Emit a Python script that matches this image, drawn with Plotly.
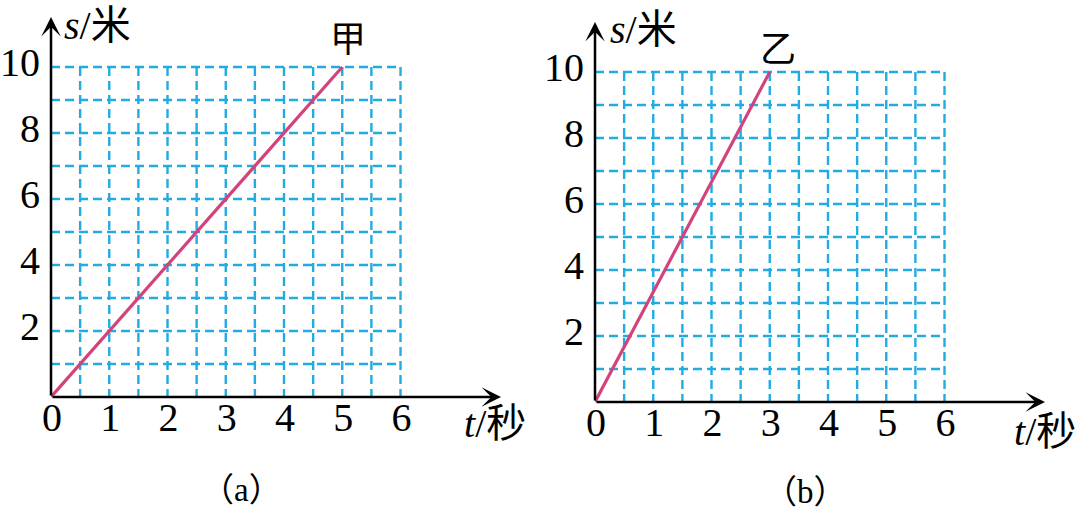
import plotly.graph_objects as go

# ---- data ----
t_jia = [0, 5]
s_jia = [0, 10]
t_yi = [0, 3]
s_yi = [0, 10]

x_ticks = [0, 1, 2, 3, 4, 5, 6]
x_ticktext = ["0", "1", "2", "3", "4", "5", "6"]
y_ticks = [2, 4, 6, 8, 10]
y_ticktext = ["2", "4", "6", "8", "10"]

grid_t = [0.5, 1, 1.5, 2, 2.5, 3, 3.5, 4, 4.5, 5, 5.5, 6]
grid_s = [1, 2, 3, 4, 5, 6, 7, 8, 9, 10]
grid_t_max = 6
grid_s_max = 10

x_axis_end = 7.725
y_axis_end = 11.515

W, H = 1080, 509
SERIF = "Liberation Serif, Noto Sans CJK SC"
GRID_COLOR = "#22ABE3"
LINE_COLOR = "#D2437C"

fig = go.Figure()


def grid_traces(xa, ya):
    gx, gy = [], []
    for t in grid_t:
        gx += [t, t, None]
        gy += [grid_s_max, 0, None]
    hx, hy = [], []
    for s in grid_s:
        hx += [0, grid_t_max, None]
        hy += [s, s, None]
    for X, Y in ((gx, gy), (hx, hy)):
        fig.add_trace(go.Scatter(x=X, y=Y, mode="lines", xaxis=xa, yaxis=ya,
                                 line=dict(color=GRID_COLOR, width=2.4, dash="9px,5px"),
                                 hoverinfo="skip", showlegend=False))


grid_traces("x", "y")
grid_traces("x2", "y2")

fig.add_trace(go.Scatter(x=t_jia, y=s_jia, mode="lines", xaxis="x", yaxis="y",
                         line=dict(color=LINE_COLOR, width=3.2), showlegend=False))
fig.add_trace(go.Scatter(x=t_yi, y=s_yi, mode="lines", xaxis="x2", yaxis="y2",
                         line=dict(color=LINE_COLOR, width=3.2), showlegend=False))

xax = dict(range=[0, x_axis_end], showgrid=False, zeroline=False, showline=False,
           automargin=False,
           tickmode="array", tickvals=x_ticks, ticktext=x_ticktext, ticks="",
           tickfont=dict(family=SERIF, size=40, color="black"), ticklabelstandoff=-7,
           ticklabelshift=1)
yax = dict(range=[0, y_axis_end], showgrid=False, zeroline=False, showline=False,
           automargin=False,
           tickmode="array", tickvals=y_ticks, ticktext=y_ticktext, ticks="",
           tickfont=dict(family=SERIF, size=40, color="black"), ticklabelstandoff=10,
           ticklabelshift=-5)

fig.update_layout(
    width=W, height=H, margin=dict(l=0, r=0, t=0, b=0, pad=0, autoexpand=False),
    paper_bgcolor="white", plot_bgcolor="white", showlegend=False,
    xaxis=dict(xax, domain=[51 / W, 501 / W], anchor="y"),
    yaxis=dict(yax, domain=[(H - 397) / H, (H - 17) / H], anchor="x"),
    xaxis2=dict(xax, domain=[595 / W, 1045 / W], anchor="y2"),
    yaxis2=dict(yax, domain=[(H - 402) / H, (H - 22) / H], anchor="x2"),
)

ann = []
for xr, yr in (("x", "y"), ("x2", "y2")):
    # axis arrows
    ann.append(dict(x=x_axis_end, y=0, ax=0, ay=0, xref=xr, yref=yr, axref=xr, ayref=yr,
                    text="", showarrow=True, arrowhead=3, arrowsize=1.3, arrowwidth=2.5,
                    arrowcolor="black", standoff=0))
    ann.append(dict(x=0, y=y_axis_end, ax=0, ay=0, xref=xr, yref=yr, axref=xr, ayref=yr,
                    text="", showarrow=True, arrowhead=3, arrowsize=1.3, arrowwidth=2.5,
                    arrowcolor="black", standoff=0))

font = dict(family=SERIF, size=40, color="black")
ann += [
    dict(x=0.19, y=11.27, xref="x", yref="y", text="<i>s</i>/米", showarrow=False,
         xanchor="left", yanchor="middle", font=font),
    dict(x=0.22, y=11.3, xref="x2", yref="y2", text="<i>s</i>/米", showarrow=False,
         xanchor="left", yanchor="middle", font=font),
    dict(x=495 / W, y=1 - 423 / H, xref="paper", yref="paper", text="<i>t</i>/秒",
         showarrow=False, xanchor="center", yanchor="middle", font=font),
    dict(x=1045 / W, y=1 - 431 / H, xref="paper", yref="paper", text="<i>t</i>/秒",
         showarrow=False, xanchor="center", yanchor="middle", font=font),
    dict(x=t_jia[-1] + 0.1, y=s_jia[-1] + 0.82, xref="x", yref="y", text="甲", showarrow=False,
         xanchor="center", yanchor="middle", font=dict(family=SERIF, size=36, color="black")),
    dict(x=t_yi[-1] + 0.14, y=s_yi[-1] + 0.67, xref="x2", yref="y2", text="乙", showarrow=False,
         xanchor="center", yanchor="middle", font=dict(family=SERIF, size=36, color="black")),
    dict(x=241 / W, y=1 - 490 / H, xref="paper", yref="paper", text="（a）", showarrow=False,
         xanchor="center", yanchor="middle", font=dict(family=SERIF, size=33, color="black")),
    dict(x=805 / W, y=1 - 492 / H, xref="paper", yref="paper", text="（b）", showarrow=False,
         xanchor="center", yanchor="middle", font=dict(family=SERIF, size=33, color="black")),
]
fig.update_layout(annotations=ann)

fig.write_html("out.html", config={"displayModeBar": False},
               post_script="document.body.style.margin='0';document.body.style.overflow='hidden';")
